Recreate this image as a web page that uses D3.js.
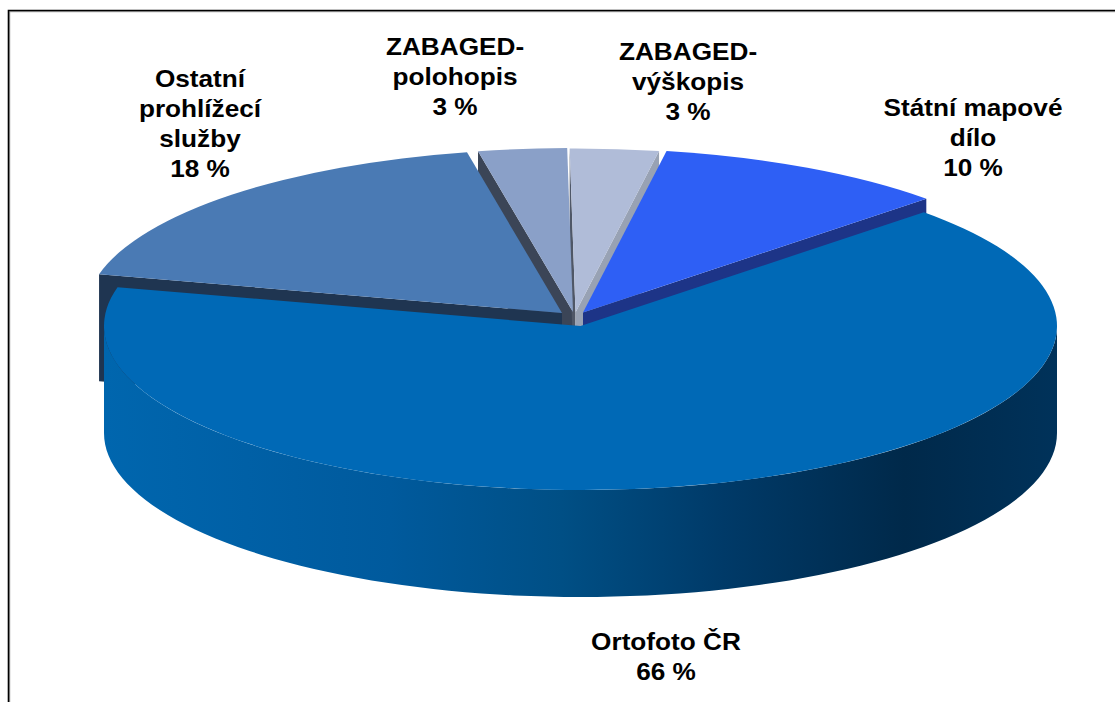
<!DOCTYPE html>
<html><head><meta charset="utf-8">
<script src="https://cdn.jsdelivr.net/npm/d3@7"></script>
<style>html,body{margin:0;padding:0;background:#fff}svg{display:block}</style></head>
<body><svg id="c" width="1115" height="702"></svg>
<script>
const categories = ["ZABAGED-výškopis","Státní mapové dílo","Ortofoto ČR","Ostatní prohlížecí služby","ZABAGED-polohopis"];
const values = [3,10,66,18,3];
const topColors = ["#b0bcd8","#2e5ff5","#0069b6","#4a7ab4","#8aa0c8"];
const labelLines = [["ZABAGED-","výškopis","3 %"],["Státní mapové","dílo","10 %"],["Ortofoto ČR","66 %"],["Ostatní","prohlížecí","služby","18 %"],["ZABAGED-","polohopis","3 %"]];
const labelX = [688,973,666,200,455];
const labelTop = [52,108,642,79,47];
const explodeDx = [-5,2.5,0,-18.5,-7.5];
const explodeDy = [-13.5,-13.5,0,-13,-14];

const W=1115,H=702,cx=580.5,cy=326,rx=476.5,ry=164,depth=107;
const svg=d3.select("#c");
svg.append("path").attr("d",`M9.5 702V11.5H1115`).attr("fill","none").attr("stroke","#a9a9a9").attr("stroke-width",1.5);
svg.append("path").attr("d",`M8.5 702V10.5H1115`).attr("fill","none").attr("stroke","#000").attr("stroke-width",1.6);

const start=-0.7*Math.PI/180;
const arcs=d3.pie().sort(null).startAngle(start).endAngle(start+2*Math.PI)(values);
const arcGen=d3.arc().innerRadius(0).outerRadius(rx);
const line=d3.line();
const apex=i=>[cx+explodeDx[i],cy+explodeDy[i]];
const rim=(i,a)=>{const p=apex(i);return [p[0]+rx*Math.sin(a),p[1]-ry*Math.cos(a)]};
const down=(p,d=depth)=>[p[0],p[1]+d];
function wall(i,a,fill){
  const p=apex(i),q=rim(i,a);
  svg.append("path").attr("d",line([q,p,down(p),down(q)])+"Z").attr("fill",fill);
}
function drawTop(i){
  svg.append("path").attr("d",arcGen(arcs[i]))
    .attr("transform",`translate(${apex(i)}) scale(1,${ry/rx})`).attr("fill",topColors[i]);
}
const [vy,st,ma,os,po]=[0,1,2,3,4];
wall(po,arcs[po].startAngle,"#3b4557");
wall(os,arcs[os].startAngle,"#1f3551");
drawTop(os);
wall(vy,arcs[vy].startAngle,"#4f5767");
drawTop(po);
wall(vy,arcs[vy].endAngle,"#98a2b4");
drawTop(vy);
wall(st,arcs[st].endAngle,"#1d3487");
drawTop(st);
const defs=svg.append("defs");
const g=defs.append("linearGradient").attr("id","side").attr("gradientUnits","userSpaceOnUse")
  .attr("x1",cx-rx).attr("x2",cx+rx).attr("y1",0).attr("y2",0);
[[0,"#0066ae"],[0.15,"#0060a6"],[0.3,"#005a9d"],[0.48,"#004f85"],[0.65,"#003a68"],[0.84,"#00294a"],[1,"#00325a"]]
  .forEach(d=>g.append("stop").attr("offset",d[0]).attr("stop-color",d[1]));
const frontAngles=d3.range(91).map(k=>Math.PI/2+k*Math.PI/90);
const upper=frontAngles.map(a=>rim(ma,a));
const lower=upper.slice().reverse().map(p=>down(p));
svg.append("path").attr("d",line(upper.concat(lower))+"Z").attr("fill","url(#side)");
drawTop(ma);
const fs=23.5,lh=30,xStretch=1.115;
labelLines.forEach((ls,i)=>{
  const t=svg.append("text").attr("text-anchor","middle")
    .attr("transform",`translate(${labelX[i]},${labelTop[i]+8}) scale(${xStretch},1)`)
    .attr("font-family","'Liberation Sans',Arial,sans-serif").attr("font-weight","bold").attr("font-size",fs).attr("fill","#000");
  ls.forEach((s,j)=>t.append("tspan").attr("x",0).attr("y",j*lh).text(s));
});
</script></body></html>
